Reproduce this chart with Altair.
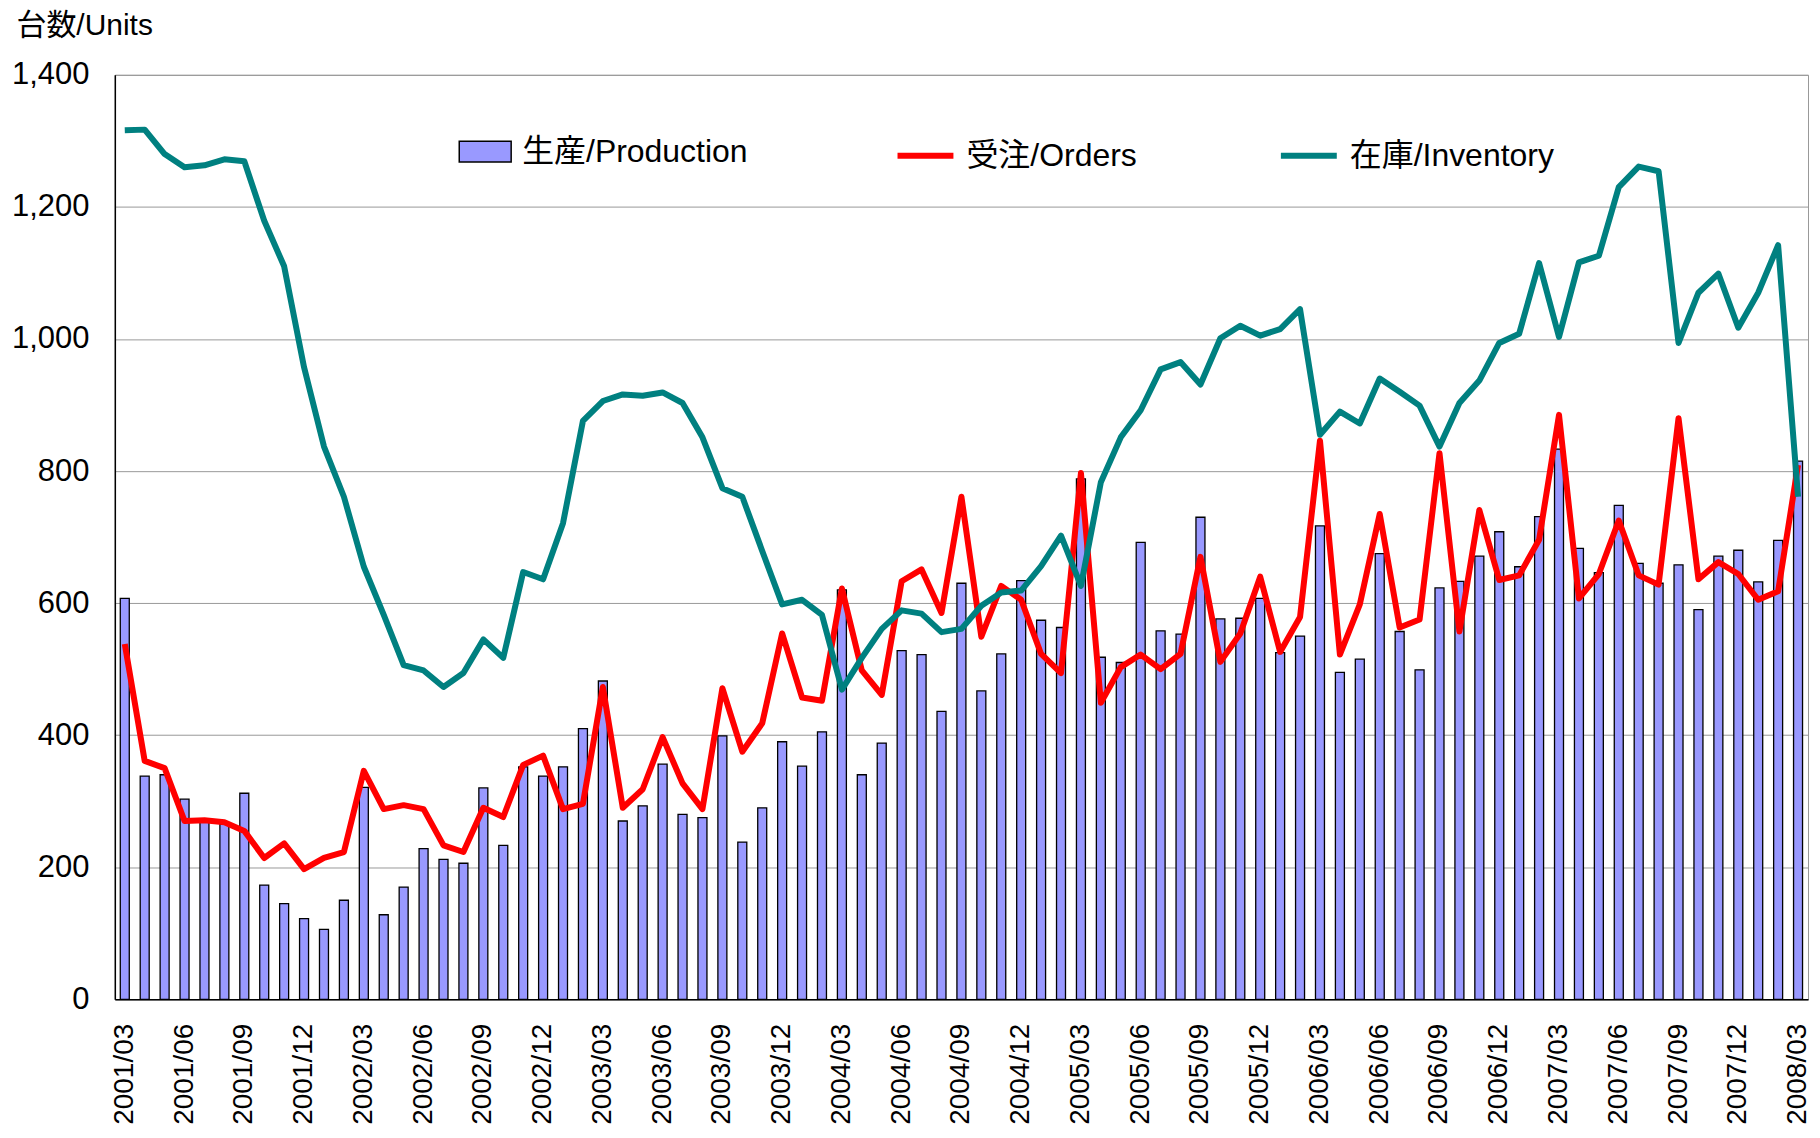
import altair as alt
import pandas as pd

months = []
for y in range(2001, 2009):
    for m in range(1, 13):
        if (y == 2001 and m < 3) or (y == 2008 and m > 3):
            continue
        months.append(f"{y}/{m:02d}")

production = [607, 338, 340, 303, 270, 265, 312, 173, 145, 122, 106, 150,
              321, 128, 170, 228, 212, 206, 320, 233, 352, 338, 352, 410,
              482, 270, 293, 356, 280, 275, 399, 238, 290, 390, 353, 405,
              620, 340, 388, 528, 522, 436, 630, 467, 523, 634, 574, 563,
              788, 518, 510, 692, 558, 553, 730, 576, 577, 607, 525, 550,
              717, 495, 515, 675, 557, 499, 623, 633, 671, 708, 655, 731,
              833, 683, 646, 748, 660, 630, 658, 590, 671, 680, 632, 695,
              815]

orders = [538, 361, 350, 270, 271, 268, 255, 214, 236, 197, 214, 223,
          346, 288, 294, 288, 233, 223, 290, 276, 355, 369, 288, 296,
          473, 290, 318, 397, 327, 288, 471, 375, 418, 554, 457, 452,
          622, 498, 461, 633, 651, 585, 761, 549, 626, 605, 523, 494,
          797, 449, 503, 522, 500, 523, 670, 511, 554, 640, 526, 579,
          846, 522, 598, 735, 563, 575, 827, 557, 741, 635, 642, 696,
          885, 607, 644, 725, 642, 628, 880, 636, 662, 644, 605, 618,
          809]

inventory = [1316, 1317, 1280, 1260, 1263, 1272, 1269, 1179, 1110, 957, 837, 761,
             655, 582, 506, 498, 473, 494, 545, 517, 647, 636, 721, 876,
             906, 916, 914, 919, 903, 851, 774, 761, 679, 598, 605, 582,
             469, 517, 561, 589, 584, 556, 561, 596, 616, 619, 656, 702,
             626, 783, 851, 892, 954, 965, 931, 1001, 1020, 1005, 1015, 1045,
             855, 890, 872, 940, 920, 899, 837, 903, 937, 994, 1008, 1115,
             1003, 1116, 1126, 1230, 1261, 1254, 994, 1070, 1099, 1017, 1070, 1142,
             761]

series_names = ["生産/Production", "受注/Orders", "在庫/Inventory"]
series_colors = ["#9999FF", "#FF0000", "#008080"]
label_months = months[::3]
y_ticks = [0, 200, 400, 600, 800, 1000, 1200, 1400]

df_prod = pd.DataFrame({"month": months, "series": series_names[0], "value": production})
df_ord = pd.DataFrame({"month": months, "series": series_names[1], "value": orders})
df_inv = pd.DataFrame({"month": months, "series": series_names[2], "value": inventory})

FONT = "Liberation Sans, Arial, Noto Sans CJK JP"

bar_legend = alt.Legend(
    title=None,
    orient="none",
    legendX=344,
    legendY=50,
    direction="horizontal",
    padding=0,
    labelFontSize=32,
    labelFont=FONT,
    labelColor="#000000",
    labelOffset=10,
    labelLimit=600,
    symbolType="M-1,-0.4H1V0.4H-1Z",
    symbolSize=2704,
    symbolStrokeColor="#000000",
    symbolStrokeWidth=1.5,
    symbolOpacity=1,
)

line_legend = alt.Legend(
    title=None,
    orient="none",
    legendX=781,
    legendY=50,
    direction="horizontal",
    columns=2,
    columnPadding=132,
    padding=0,
    labelFontSize=32,
    labelFont=FONT,
    labelColor="#000000",
    labelOffset=10,
    labelLimit=600,
    symbolType="stroke",
    symbolSize=3136,
    symbolStrokeWidth=6,
    symbolOpacity=1,
)

fill_enc = alt.Fill(
    "series:N",
    scale=alt.Scale(domain=series_names[:1], range=series_colors[:1]),
    legend=bar_legend,
)

stroke_enc = alt.Stroke(
    "series:N",
    scale=alt.Scale(domain=series_names[1:], range=series_colors[1:]),
    legend=line_legend,
)

x_enc = alt.X(
    "month:O",
    sort=months,
    scale=alt.Scale(domain=months, paddingInner=0, paddingOuter=0),
    axis=alt.Axis(
        title=None,
        values=label_months,
        labelAngle=270,
        labelFontSize=28,
        labelFont=FONT,
        labelColor="#000000",
        labelPadding=24,
        ticks=False,
        grid=False,
        domainColor="#000000",
        domainWidth=1.5,
    ),
)

y_enc = alt.Y(
    "value:Q",
    scale=alt.Scale(domain=[0, 1400], nice=False),
    axis=alt.Axis(
        title="台数/Units",
        titleAngle=0,
        titleAlign="left",
        titleBaseline="middle",
        titleX=-99,
        titleY=-49,
        titleFontSize=30,
        titleFontWeight="normal",
        titleFont=FONT,
        titleColor="#000000",
        values=y_ticks,
        format=",d",
        labelFontSize=31,
        labelFont=FONT,
        labelColor="#000000",
        labelPadding=26,
        ticks=False,
        grid=True,
        gridColor="#999999",
        gridWidth=1,
        domainColor="#000000",
        domainWidth=1.5,
    ),
)

bars = alt.Chart(df_prod).mark_bar(size=9, stroke="#000000", strokeWidth=1.3).encode(
    x=x_enc, y=y_enc, fill=fill_enc
)

line_orders = alt.Chart(df_ord).mark_line(strokeWidth=6, strokeJoin="round").encode(
    x=alt.X("month:O", sort=months), y="value:Q", stroke=stroke_enc
)

line_inv = alt.Chart(df_inv).mark_line(strokeWidth=6, strokeJoin="round").encode(
    x=alt.X("month:O", sort=months), y="value:Q", stroke=stroke_enc
)

chart = (
    alt.layer(bars, line_orders, line_inv)
    .properties(
        width=1696,
        height=926,
        padding={"left": 3, "top": 2, "right": 0, "bottom": 0},
        background="#ffffff",
    )
    .configure(font=FONT)
    .configure_view(stroke="#999999", strokeWidth=1)
)

chart.save("out.html", embed_options={"renderer": "svg", "actions": False})
